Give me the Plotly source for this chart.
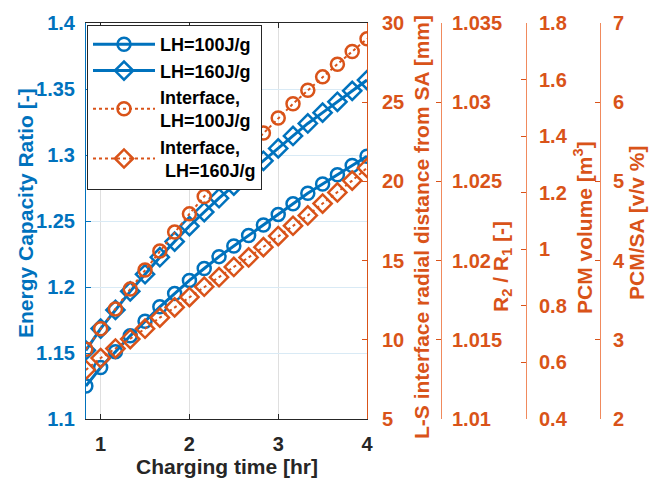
import plotly.graph_objects as go

# ---- data ----
charging_time_min = [50, 60, 70, 80, 90, 100, 110, 120, 130, 140,
                     150, 160, 170, 180, 190, 200, 210, 220, 230, 240]
charging_time_hr = [m / 60 for m in charging_time_min]

ecr_lh100 = [1.125, 1.139, 1.151, 1.163, 1.174, 1.185, 1.195, 1.205, 1.214, 1.223,
             1.231, 1.239, 1.247, 1.255, 1.263, 1.271, 1.278, 1.285, 1.292, 1.299]
ecr_lh160 = [1.152, 1.1685, 1.1826, 1.1967, 1.2097, 1.2226, 1.2344, 1.2462, 1.2568, 1.2673,
             1.2768, 1.2862, 1.2956, 1.305, 1.3144, 1.3239, 1.3321, 1.3403, 1.3486, 1.3568]
iface_lh100 = [9.4, 10.7, 11.95, 13.2, 14.4, 15.6, 16.8, 17.95, 19.05, 20.1,
               21.1, 22.1, 23.05, 24.0, 24.9, 25.75, 26.6, 27.4, 28.2, 29.0]
iface_lh160 = [8.1, 8.85, 9.45, 10.05, 10.7, 11.4, 12.05, 12.7, 13.35, 13.95,
               14.6, 15.2, 15.85, 16.55, 17.2, 17.85, 18.6, 19.3, 20.05, 20.85]

names = ["LH=100J/g", "LH=160J/g", "Interface,<br>LH=100J/g", "Interface,<br> LH=160J/g"]

BLUE = "#0072BD"
ORANGE = "#D95319"
FONT = "Liberation Sans"

fig = go.Figure()
fig.add_trace(go.Scatter(x=charging_time_hr, y=ecr_lh100, name=names[0], mode="lines+markers",
                         line=dict(color=BLUE, width=3),
                         marker=dict(symbol="circle-open", size=13, line=dict(width=2.5, color=BLUE))))
fig.add_trace(go.Scatter(x=charging_time_hr, y=ecr_lh160, name=names[1], mode="lines+markers",
                         line=dict(color=BLUE, width=3),
                         marker=dict(symbol="diamond-open", size=14, line=dict(width=2.5, color=BLUE))))
fig.add_trace(go.Scatter(x=charging_time_hr, y=iface_lh100, name=names[2], mode="lines+markers",
                         yaxis="y2", line=dict(color=ORANGE, width=2, dash="dot"),
                         marker=dict(symbol="circle-open", size=13, line=dict(width=2.5, color=ORANGE))))
fig.add_trace(go.Scatter(x=charging_time_hr, y=iface_lh160, name=names[3], mode="lines+markers",
                         yaxis="y2", line=dict(color=ORANGE, width=2, dash="dot"),
                         marker=dict(symbol="diamond-open", size=14, line=dict(width=2.5, color=ORANGE))))
for ax in ["y3", "y4", "y5"]:
    fig.add_trace(go.Scatter(x=[], y=[], yaxis=ax, showlegend=False, hoverinfo="skip"))

W, H = 661, 481
L, R, T, B = 86, 20, 23, 62
pw, ph = W - L - R, H - T - B


def px_x(p):
    return (p - L) / pw


def px_y(p):
    return (H - B - p) / ph


tick_font = dict(family=FONT, size=20, weight="bold")

common_y = dict(ticks="inside", ticklen=5, showline=True, linewidth=1, zeroline=False)

fig.update_layout(
    width=W, height=H,
    margin=dict(l=L, r=R, t=T, b=B),
    paper_bgcolor="white", plot_bgcolor="white",
    font=dict(family=FONT, weight="bold"),
    showlegend=True,
    legend=dict(x=px_x(87), y=px_y(25), xanchor="left", yanchor="top",
                bgcolor="white", bordercolor="#262626", borderwidth=1,
                font=dict(family=FONT, size=18, color="black", weight="bold"),
                itemwidth=62, tracegroupgap=0),
    xaxis=dict(domain=[0, px_x(367)], range=[0.835, 4], tickvals=[1, 2, 3, 4],
               ticks="inside", ticklen=5, tickcolor="#262626",
               showline=True, linecolor="#262626", linewidth=1, mirror="ticks",
               showgrid=True, gridcolor="#dfdfdf", zeroline=False,
               tickfont=dict(color="#262626", **tick_font), ticklabelstandoff=7),
    yaxis=dict(range=[1.1, 1.4], tick0=1.1, dtick=0.05, color=BLUE, linecolor=BLUE,
               tickfont=dict(color=BLUE, **tick_font), showgrid=True, gridcolor="#d9eaf5",
               ticklabelstandoff=6, **common_y),
    yaxis2=dict(range=[5, 30], dtick=5, overlaying="y", side="right", anchor="x",
                color=ORANGE, linecolor=ORANGE, tickfont=dict(color=ORANGE, **tick_font),
                showgrid=False, ticklabelstandoff=10, **common_y),
    yaxis3=dict(range=[1.01, 1.035], dtick=0.005, overlaying="y", side="right", anchor="free",
                position=px_x(441), color=ORANGE, linecolor="#F08A5D",
                tickfont=dict(color=ORANGE, **tick_font), showgrid=False, ticklabelstandoff=6,
                **common_y),
    yaxis4=dict(range=[0.4, 1.8], dtick=0.2, overlaying="y", side="right", anchor="free",
                position=px_x(526), color=ORANGE, linecolor="#F08A5D",
                tickfont=dict(color=ORANGE, **tick_font), showgrid=False, ticklabelstandoff=8,
                **common_y),
    yaxis5=dict(range=[2, 7], dtick=1, overlaying="y", side="right", anchor="free",
                position=px_x(600), color=ORANGE, linecolor="#F08A5D",
                tickfont=dict(color=ORANGE, **tick_font), showgrid=False, ticklabelstandoff=8,
                **common_y),
)

title_font = dict(family=FONT, size=21, weight="bold")
ann = [
    ("Energy Capacity Ratio [-]", 25, 213, -90, BLUE),
    ("Charging time [hr]", 227, 466, 0, "#262626"),
    ("L-S interface radial distance from SA [mm]", 421, 227, -90, ORANGE),
    ("R<sub>2</sub> / R<sub>1</sub> [-]", 502, 267, -90, ORANGE),
    ("PCM volume [m<sup>3</sup>]", 583, 228, -90, ORANGE),
    ("PCM/SA [v/v %]", 637, 223, -90, ORANGE),
]
for text, x, y, ang, col in ann:
    fig.add_annotation(text=text, x=px_x(x), y=px_y(y), xref="paper", yref="paper",
                       xanchor="center", yanchor="middle", textangle=ang, showarrow=False,
                       font=dict(color=col, **title_font))

fig.write_html("out.html")
